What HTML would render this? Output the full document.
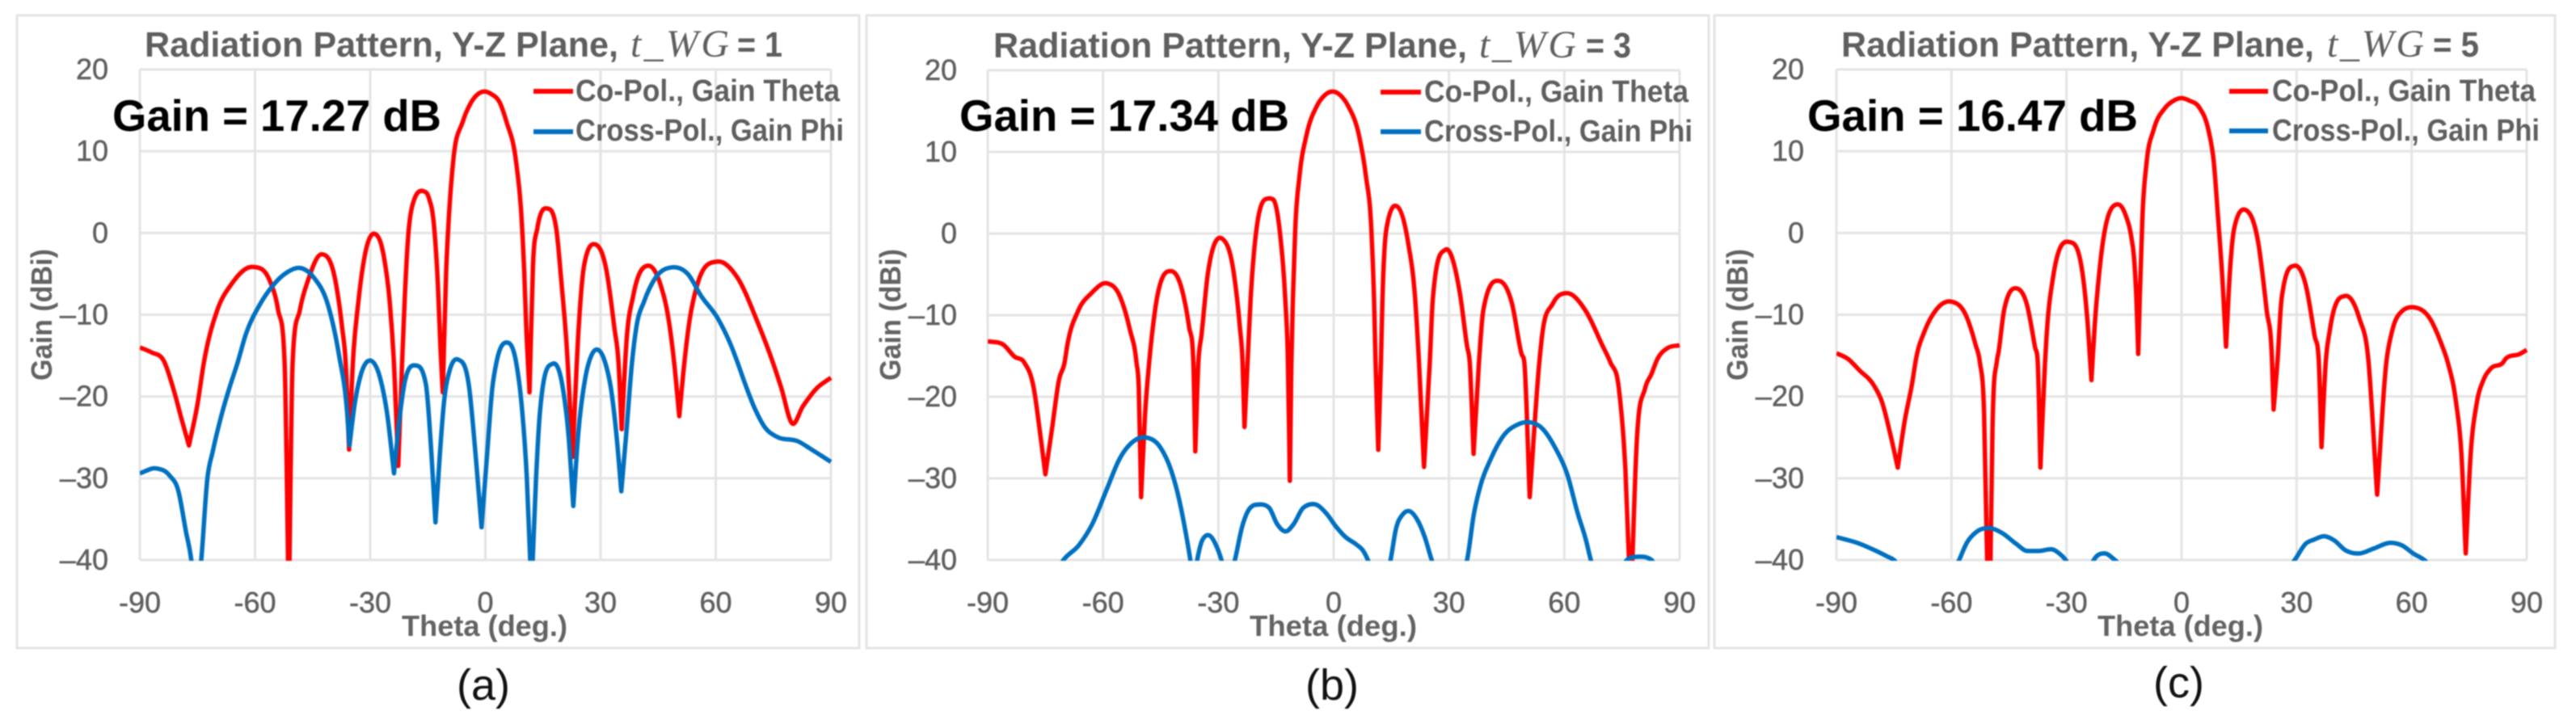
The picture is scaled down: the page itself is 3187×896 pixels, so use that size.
<!DOCTYPE html>
<html lang="en">
<head>
<meta charset="utf-8">
<title>Radiation Patterns, Y-Z Plane</title>
<style>
html,body{margin:0;padding:0;background:#fff;width:3187px;height:896px;overflow:hidden}
svg{display:block;filter:blur(.7px)}
text{font-family:"Liberation Sans",sans-serif}
.title{font-weight:700;font-size:44px;fill:#5f5f5f}
.math{font-family:"Liberation Serif",serif;font-style:italic;font-size:48px;fill:#5f5f5f}
.gain{font-weight:700;font-size:54.5px;fill:#000}
.leg{font-weight:700;font-size:38px;fill:#5f5f5f}
.axt{font-weight:700;font-size:36px;fill:#636363}
.tick{font-size:36px;fill:#5f5f5f;stroke:#5f5f5f;stroke-width:.5px}
.cap{font-size:54px;fill:#111}
</style>
</head>
<body>
<svg id="figure" xmlns="http://www.w3.org/2000/svg" width="3187" height="896" viewBox="0 0 3187 896">
  <rect x="0" y="0" width="3187" height="896" fill="#fff"/>

  <g id="panel-a">
    <rect x="21" y="19" width="1042" height="783" fill="#fff" stroke="#e4e4e4" stroke-width="3"/>
    <g id="plot-a"></g>
    <g>
      <text class="title" x="179" y="70" textLength="586" lengthAdjust="spacingAndGlyphs">Radiation Pattern, Y-Z Plane,</text>
      <text class="math" x="780" y="70" textLength="122" lengthAdjust="spacing">t_WG</text>
      <text class="title" x="912" y="70" textLength="56" lengthAdjust="spacingAndGlyphs">= 1</text>
    </g>
    <text class="gain" x="139" y="162" textLength="407" lengthAdjust="spacingAndGlyphs">Gain = 17.27 dB</text>
    <line x1="660" x2="709" y1="113" y2="113" stroke="#ff0000" stroke-width="6"/>
    <text class="leg" x="712" y="125" textLength="327" lengthAdjust="spacingAndGlyphs">Co-Pol., Gain Theta</text>
    <line x1="660" x2="709" y1="163" y2="163" stroke="#0070c0" stroke-width="6"/>
    <text class="leg" x="712" y="174" textLength="332" lengthAdjust="spacingAndGlyphs">Cross-Pol., Gain Phi</text>
    <text class="axt" x="497" y="787" textLength="205" lengthAdjust="spacingAndGlyphs">Theta (deg.)</text>
    <text class="axt" transform="translate(64,471) rotate(-90)" x="0" y="0" textLength="163" lengthAdjust="spacingAndGlyphs">Gain (dBi)</text>
    <text class="cap" x="565" y="866">(a)</text>
  </g>

  <g id="panel-b">
    <rect x="1072" y="19" width="1042" height="783" fill="#fff" stroke="#e4e4e4" stroke-width="3"/>
    <g id="plot-b"></g>
    <g>
      <text class="title" x="1229" y="71" textLength="586" lengthAdjust="spacingAndGlyphs">Radiation Pattern, Y-Z Plane,</text>
      <text class="math" x="1830" y="71" textLength="120" lengthAdjust="spacing">t_WG</text>
      <text class="title" x="1962" y="71" textLength="56" lengthAdjust="spacingAndGlyphs">= 3</text>
    </g>
    <text class="gain" x="1187" y="162" textLength="408" lengthAdjust="spacingAndGlyphs">Gain = 17.34 dB</text>
    <line x1="1708" x2="1758" y1="114" y2="114" stroke="#ff0000" stroke-width="6"/>
    <text class="leg" x="1762" y="126" textLength="327" lengthAdjust="spacingAndGlyphs">Co-Pol., Gain Theta</text>
    <line x1="1708" x2="1758" y1="163" y2="163" stroke="#0070c0" stroke-width="6"/>
    <text class="leg" x="1762" y="175" textLength="332" lengthAdjust="spacingAndGlyphs">Cross-Pol., Gain Phi</text>
    <text class="axt" x="1546" y="787" textLength="207" lengthAdjust="spacingAndGlyphs">Theta (deg.)</text>
    <text class="axt" transform="translate(1114,471) rotate(-90)" x="0" y="0" textLength="163" lengthAdjust="spacingAndGlyphs">Gain (dBi)</text>
    <text class="cap" x="1615" y="866">(b)</text>
  </g>

  <g id="panel-c">
    <rect x="2121" y="19" width="1040" height="783" fill="#fff" stroke="#e4e4e4" stroke-width="3"/>
    <g id="plot-c"></g>
    <g>
      <text class="title" x="2278" y="70" textLength="585" lengthAdjust="spacingAndGlyphs">Radiation Pattern, Y-Z Plane,</text>
      <text class="math" x="2879" y="70" textLength="120" lengthAdjust="spacing">t_WG</text>
      <text class="title" x="3010" y="70" textLength="57" lengthAdjust="spacingAndGlyphs">= 5</text>
    </g>
    <text class="gain" x="2236" y="162" textLength="409" lengthAdjust="spacingAndGlyphs">Gain = 16.47 dB</text>
    <line x1="2758" x2="2806" y1="113" y2="113" stroke="#ff0000" stroke-width="6"/>
    <text class="leg" x="2811" y="125" textLength="326" lengthAdjust="spacingAndGlyphs">Co-Pol., Gain Theta</text>
    <line x1="2758" x2="2806" y1="162" y2="162" stroke="#0070c0" stroke-width="6"/>
    <text class="leg" x="2811" y="174" textLength="331" lengthAdjust="spacingAndGlyphs">Cross-Pol., Gain Phi</text>
    <text class="axt" x="2595" y="787" textLength="205" lengthAdjust="spacingAndGlyphs">Theta (deg.)</text>
    <text class="axt" transform="translate(2162,471) rotate(-90)" x="0" y="0" textLength="163" lengthAdjust="spacingAndGlyphs">Gain (dBi)</text>
    <text class="cap" x="2664" y="863">(c)</text>
  </g>
</svg>

<script>
var xTickValues = [-90, -60, -30, 0, 30, 60, 90];
var xTickLabels = ['-90', '-60', '-30', '0', '30', '60', '90'];
var yTickValues = [20, 10, 0, -10, -20, -30, -40];
var yTickLabels = ['20', '10', '0', '\u201310', '\u201320', '\u201330', '\u201340'];

var thetaCoA = [-90,-87,-83.7,-81,-79,-77.2,-75,-73.3,-69.8,-66.2,-60.5,-56.2,-54,-52.3,-51.2,-50.2,-48.3,-46.2,-42.6,-39,-37.3,-36.4,-35.5,-34.5,-33.1,-31.3,-28.8,-26.4,-25,-23.8,-22.7,-21.7,-21,-20.2,-19.2,-16.1,-14.8,-13.3,-12.4,-11.7,-11.1,-10.2,-9.5,-8.4,-5.9,-3.8,-1.9,-0.2,1.5,3.8,5.5,8,9.4,10.1,10.6,11.5,12.4,13.5,16.1,18.5,19.8,21.2,22.7,24.3,25.7,28.7,31.5,33.6,34.7,35.5,36.8,38.5,42.4,45.6,47.8,49.2,50.5,51.8,52.9,55.4,60.4,65.7,70.8,75,77.1,79.9,82.7,86.3,90];
var gainCoA = [-14,-14.6,-15.7,-19.5,-23,-26,-21,-15.8,-9.4,-6.3,-4.15,-5.8,-9.4,-15.8,-46,-15.8,-9.4,-5.8,-2.6,-6,-11.6,-15.8,-26.5,-15.8,-8.5,-2.5,-0.1,-3,-8,-16,-28.5,-16,-8,-1,3,5.1,4.4,0.5,-6,-14,-19.5,-4.5,2,8.7,13.6,15.9,17,17.3,17,15.9,13.6,8.7,2,-4.5,-11,-19.5,-4,0.5,3,0.4,-6,-14,-27.4,-11.6,-4,-1.4,-4.5,-11.6,-16,-24,-13,-7.7,-4,-6.3,-10.8,-16,-22.4,-16,-11.6,-6,-3.5,-5.5,-10.8,-16,-19,-23.3,-21.2,-19,-17.7];
var thetaCrossA = [-90,-85.7,-82.2,-80,-78,-76.6,-75.4,-74,-72.4,-71,-68.8,-66.7,-64.5,-62.4,-58.8,-55.3,-51.6,-48,-44.6,-41,-38.1,-36,-35.4,-34,-32.6,-30,-27.5,-25.5,-23.8,-22.3,-20.8,-18.3,-15.5,-14,-13,-11.9,-10.8,-9.3,-7,-4.2,-2.5,-1,0.4,1.8,2.9,5.4,8,9.4,10.8,12,13.2,14.2,17.5,20,21.7,22.9,24.2,26,27.8,29.4,31.3,32.7,34.2,35.4,36.7,38.2,39.3,41.4,44,48.7,52.7,56.2,60.6,64.2,65.8,67.3,70.1,73,75.8,81.5,85,90];
var gainCrossA = [-29.4,-28.8,-29.7,-31.5,-36.5,-40,-46,-40,-30,-26.7,-22.4,-19,-15.8,-12.4,-8.8,-6.4,-4.8,-4.3,-5.5,-8.8,-15,-22,-26,-20.8,-17.6,-15.6,-17.6,-22.4,-29.4,-22.4,-17.8,-16.2,-18.5,-27.4,-35.4,-27.4,-20.8,-16.8,-15.5,-19,-27.4,-36,-27.4,-19,-15.8,-13.4,-15.8,-20.8,-30,-44,-30,-22,-16,-18.5,-25,-33.4,-24.5,-17.8,-14.8,-14.3,-16,-19,-25,-31.6,-24.5,-15.8,-11.6,-8.3,-5.7,-4.2,-5,-7.7,-10.5,-14,-16,-18,-21.4,-23.9,-24.9,-25.5,-26.5,-28];

var thetaCoB = [-90,-86,-83,-80.5,-78,-76.5,-75,-73.3,-71.4,-70,-69.3,-66.5,-63,-59,-55.8,-53,-51.3,-50.7,-50.1,-49.1,-48,-46.5,-42.3,-39.4,-37.6,-36.5,-36,-35.2,-34.4,-32.7,-28.8,-26,-24.4,-23.7,-23.2,-22.4,-21.6,-20.2,-17,-15.8,-14,-12.6,-11.9,-11.4,-11,-10.6,-10,-8.9,-7.1,-4.4,-2.2,-0.3,1.6,3.8,6.6,8.4,9.8,10.5,10.9,11.6,12.3,12.7,13.7,16.6,19.4,21.2,22.2,23.5,25,25.8,29,32.9,34.7,35.4,36.4,37.8,38.9,43,46.4,48.9,49.6,51,53.5,54.2,57,60.6,65.6,69.9,72,74.2,75.9,77.3,78.8,81,82.7,84.1,87,90];
var gainCoB = [-13.2,-13.6,-15.1,-15.8,-19,-24,-29.5,-24,-17.8,-15.8,-13.7,-9.5,-7.3,-6.1,-7.5,-11.8,-15.8,-19,-32.3,-22.4,-15.8,-9.5,-4.6,-7,-11.5,-15.8,-26.7,-15.8,-12.5,-4.8,-0.7,-4.8,-11.5,-15.8,-23.7,-15.8,-8,0.1,4.3,4.2,0.2,-8,-15.8,-30.3,-16,-8,0.5,7,12,15.6,17,17.4,17,15.6,12,7,0.5,-8,-15.8,-26.5,-15.8,-8,0.5,3.3,-1.2,-8,-15.8,-28.6,-15.8,-8,-2,-7.5,-13.8,-15.8,-27,-15.8,-9.5,-5.8,-8.6,-14.8,-15.8,-32.3,-15.8,-12.6,-8.6,-7.3,-9.5,-13.7,-15.8,-19,-29,-46,-26,-19,-17.2,-15.5,-14,-13.7];
var thetaCrossB = [-90,-75,-70.3,-66.3,-62.8,-59,-55.8,-52.2,-48.7,-45.1,-42.3,-40.2,-38.4,-37.3,-36.5,-35.5,-34.1,-32.3,-30.6,-29.2,-27.7,-25.7,-23.8,-21.7,-19.4,-16.8,-14.7,-12.4,-10.4,-7.9,-4.7,-1.9,0.6,3.1,5.9,7.7,8.9,11.5,14.8,16.2,18,19.5,21.9,23.7,25.5,29,34.7,36.5,38.3,40.8,44.3,47.9,50.7,54.3,57.8,60.7,63.5,65.6,66.9,72,76.3,79.2,82.7,86,90];
var gainCrossB = [-44,-44,-40,-38.2,-35.6,-31.3,-27.7,-25.5,-25,-26.2,-29,-32.6,-36.9,-40,-43,-40,-37.5,-37,-38.2,-40,-43,-40,-35.9,-33.6,-33.2,-33.6,-35.6,-36.5,-35.6,-33.6,-33.2,-34.3,-35.9,-37.2,-38.1,-38.9,-40,-44,-40,-36.2,-34.4,-34,-35.2,-37.2,-40,-44,-40,-34.3,-30.7,-27.7,-24.7,-23.4,-23.1,-23.9,-26.4,-29.4,-34.3,-37.5,-40,-44,-40,-39.6,-40,-44,-44];

var thetaCoC = [-90,-87,-84,-80.3,-78.1,-75.9,-74,-72.2,-70.3,-69.2,-67,-64,-60,-56.3,-53.7,-52.6,-51.5,-50.6,-50,-49.3,-48.2,-47.7,-46.3,-42.8,-40.3,-38.2,-37.5,-36.8,-35.6,-35.2,-33.5,-29.3,-26,-24.5,-23.5,-22.6,-21.2,-16.6,-14.6,-13.1,-12.4,-11.7,-11.3,-10.9,-10.2,-9.1,-7.3,-4.3,-2,0,2,4.7,7,8.4,9.5,10.7,11.6,12.6,13.7,16.8,20,22.2,23.6,24,25,26.1,29.5,32.4,34.7,35.8,36.5,37.6,38.7,42.7,46.4,48.6,51,53.4,54.9,57.4,60.7,64.8,67.7,69.4,71.6,73,74.1,75.4,76.9,78.7,80.6,83.9,84.5,88.2,90];
var gainCoC = [-14.7,-15.4,-16.8,-18.6,-20.7,-24.7,-28.7,-23,-18.5,-15.3,-12,-9.4,-8.4,-10,-13.7,-15.8,-22,-42,-46,-24,-15.8,-14.5,-9.5,-6.8,-8.8,-14,-15.8,-28.7,-15.8,-12.6,-5.4,-1.1,-4.4,-11,-18,-11,-3.7,3.5,2.2,-0.5,-3,-9,-14.8,-8,2,8.7,12.6,15.3,16.2,16.5,16.2,15.3,12.6,8.7,2,-6,-13.9,-4.8,0.5,2.8,-1.2,-9.5,-15.8,-21.6,-15.8,-8,-4,-6.4,-12.6,-15.8,-26.2,-15.8,-11.8,-7.7,-10.5,-15,-32,-15.8,-12,-9.6,-9.1,-10.5,-13.5,-15.8,-20.8,-27.2,-39.2,-27,-21,-18,-16.6,-15.8,-15.4,-14.8,-14.3];
var thetaCrossC = [-90,-84,-79.6,-76.6,-75,-70,-62,-58,-56,-53.3,-50,-46.8,-43.2,-40.2,-37.3,-33.7,-31.9,-30.2,-26,-22.9,-20,-17.4,-10,0,10,20,29.5,32.4,34.6,37.2,39.8,42.7,46.4,50.1,54.5,57.4,60.4,63.3,70,80,90];
var gainCrossC = [-37.2,-38,-38.9,-39.6,-40,-44,-44,-40,-37.9,-36.5,-36.1,-36.7,-38,-38.9,-38.9,-38.7,-39.2,-40,-44,-40,-39.2,-40,-44,-44,-44,-44,-40,-38,-37.5,-37.1,-37.6,-38.8,-39.2,-38.6,-37.9,-38.2,-39.2,-40,-44,-44,-44];

var SVG_NS = 'http://www.w3.org/2000/svg';

/* Smooth curve through the samples; sharp nulls keep a true cusp. */
function smoothPath(px, py) {
  var n = px.length, h = [], d = [], mIn = [], mOut = [], i;
  for (i = 0; i < n - 1; i++) {
    h[i] = px[i + 1] - px[i];
    d[i] = (py[i + 1] - py[i]) / h[i];
  }
  mIn[0] = mOut[0] = d[0];
  mIn[n - 1] = mOut[n - 1] = d[n - 2];
  for (i = 1; i < n - 1; i++) {
    var a = d[i - 1], b = d[i];
    var lo = Math.min(Math.abs(a), Math.abs(b));
    var mid = (h[i] * a + h[i - 1] * b) / (h[i - 1] + h[i]);
    if (a * b <= 0) {
      if (a > 0 && b < 0 && lo > 2.5) {
        mIn[i] = a;
        mOut[i] = b;
      } else {
        var lim = Math.min(Math.abs(mid), lo);
        mIn[i] = mOut[i] = (mid < 0 ? -lim : lim);
      }
    } else {
      var lim2 = Math.min(Math.abs(mid), 3 * lo);
      mIn[i] = mOut[i] = (mid < 0 ? -lim2 : lim2);
    }
  }
  var s = 'M' + px[0].toFixed(2) + ' ' + py[0].toFixed(2);
  for (i = 0; i < n - 1; i++) {
    var c = h[i] / 3;
    s += 'C' + (px[i] + c).toFixed(2) + ' ' + (py[i] + mOut[i] * c).toFixed(2) + ' ' +
         (px[i + 1] - c).toFixed(2) + ' ' + (py[i + 1] - mIn[i + 1] * c).toFixed(2) + ' ' +
         px[i + 1].toFixed(2) + ' ' + py[i + 1].toFixed(2);
  }
  return s;
}

function drawPanel(id, box, thetaCo, gainCo, thetaCross, gainCross) {
  var root = document.getElementById('plot-' + id);
  var xScale = function (t) { return box.left + (t + 90) * (box.right - box.left) / 180; };
  var yScale = function (g) { return box.top + (20 - g) * (box.bottom - box.top) / 60; };

  xTickValues.forEach(function (t, i) {
    var line = document.createElementNS(SVG_NS, 'line');
    line.setAttribute('x1', xScale(t));
    line.setAttribute('x2', xScale(t));
    line.setAttribute('y1', box.top);
    line.setAttribute('y2', box.bottom);
    line.setAttribute('stroke', '#e4e4e4');
    line.setAttribute('stroke-width', '3');
    
    
    root.appendChild(line);

    var label = document.createElementNS(SVG_NS, 'text');
    label.setAttribute('class', 'tick');
    label.setAttribute('x', xScale(t));
    label.setAttribute('y', 758);
    label.setAttribute('text-anchor', 'middle');
    
    
    label.textContent = xTickLabels[i];
    root.appendChild(label);
  });

  yTickValues.forEach(function (g, i) {
    var line = document.createElementNS(SVG_NS, 'line');
    line.setAttribute('x1', box.left);
    line.setAttribute('x2', box.right);
    line.setAttribute('y1', yScale(g));
    line.setAttribute('y2', yScale(g));
    line.setAttribute('stroke', '#e4e4e4');
    line.setAttribute('stroke-width', '3');
    
    
    root.appendChild(line);

    var label = document.createElementNS(SVG_NS, 'text');
    label.setAttribute('class', 'tick');
    label.setAttribute('x', box.labelRight);
    label.setAttribute('y', yScale(g) + 12);
    label.setAttribute('text-anchor', 'end');
    
    
    label.textContent = yTickLabels[i];
    root.appendChild(label);
  });

  var clip = document.createElementNS(SVG_NS, 'clipPath');
  clip.setAttribute('id', 'clip-' + id);
  var clipRect = document.createElementNS(SVG_NS, 'rect');
  clipRect.setAttribute('x', box.left);
  clipRect.setAttribute('y', box.top);
  clipRect.setAttribute('width', box.right - box.left + 2);
  clipRect.setAttribute('height', box.bottom - box.top + 1);
  clip.appendChild(clipRect);
  root.appendChild(clip);

  var coPath = document.createElementNS(SVG_NS, 'path');
  coPath.setAttribute('d', smoothPath(thetaCo.map(xScale), gainCo.map(yScale)));
  coPath.setAttribute('fill', 'none');
  coPath.setAttribute('stroke', '#ff0000');
  coPath.setAttribute('stroke-width', '5.5');
  coPath.setAttribute('stroke-linejoin', 'round');
  coPath.setAttribute('clip-path', 'url(#clip-' + id + ')');
  
  

  var crossPath = document.createElementNS(SVG_NS, 'path');
  crossPath.setAttribute('d', smoothPath(thetaCross.map(xScale), gainCross.map(yScale)));
  crossPath.setAttribute('fill', 'none');
  crossPath.setAttribute('stroke', '#0070c0');
  crossPath.setAttribute('stroke-width', '5.5');
  crossPath.setAttribute('stroke-linejoin', 'round');
  crossPath.setAttribute('clip-path', 'url(#clip-' + id + ')');
  
  

  root.appendChild(coPath);
  root.appendChild(crossPath);
}

drawPanel('a', {left: 173, right: 1028, top: 86, bottom: 693, labelRight: 134}, thetaCoA, gainCoA, thetaCrossA, gainCrossA);
drawPanel('b', {left: 1222, right: 2078, top: 87, bottom: 693, labelRight: 1184}, thetaCoB, gainCoB, thetaCrossB, gainCrossB);
drawPanel('c', {left: 2272, right: 3126, top: 86, bottom: 693, labelRight: 2232}, thetaCoC, gainCoC, thetaCrossC, gainCrossC);
</script>
</body>
</html>
